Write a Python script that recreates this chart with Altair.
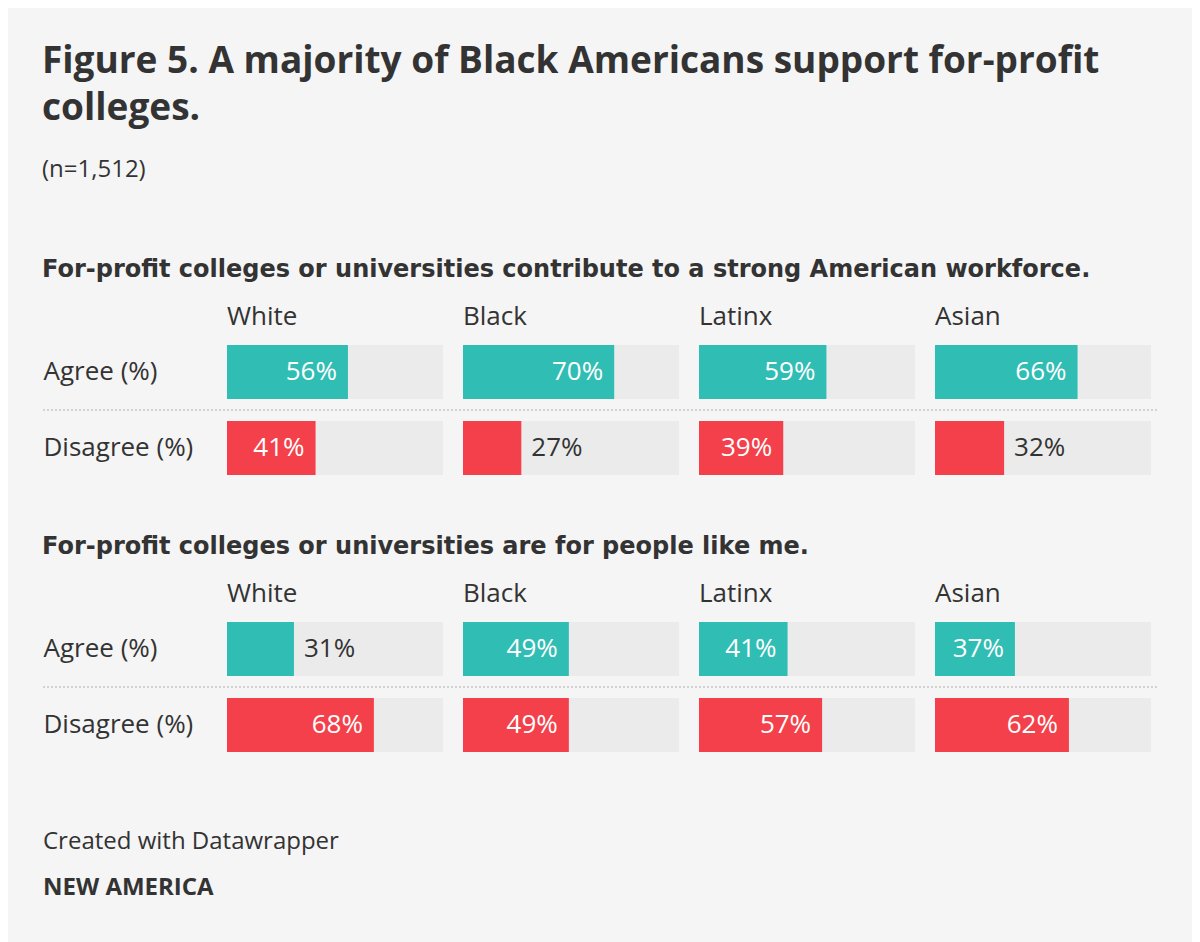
import altair as alt
import pandas as pd

groups = ["White", "Black", "Latinx", "Asian"]
responses = ["Agree (%)", "Disagree (%)"]
s1_agree = [56, 70, 59, 66]
s1_disagree = [41, 27, 39, 32]
s2_agree = [31, 49, 41, 37]
s2_disagree = [68, 49, 57, 62]
section_titles = [
    "For-profit colleges or universities contribute to a strong American workforce.",
    "For-profit colleges or universities are for people like me.",
]
title_lines = ["Figure 5. A majority of Black Americans support for-profit", "colleges."]
subtitle = "(n=1,512)"
footer = ["Created with Datawrapper", "NEW AMERICA"]

TEAL = "#30bdb4"
RED = "#f4404a"
TRACK = "#ebebeb"
BG = "#f5f5f5"
INK = "#333333"
FONT = "Open Sans"
HFONT = "DejaVu Sans"
PANEL_W = 216
BAND = 54
GAP = 22
FS = 26


def frame(agree, disagree):
    rows = []
    for g, a, d in zip(groups, agree, disagree):
        rows.append(dict(group=g, response=responses[0], value=a))
        rows.append(dict(group=g, response=responses[1], value=d))
    return pd.DataFrame(rows)


def yenc(**kw):
    return alt.Y(
        "response:N",
        sort=responses,
        title=None,
        scale=alt.Scale(paddingInner=GAP / (BAND + GAP), paddingOuter=0),
        axis=alt.Axis(
            labelAlign="left",
            labelPadding=184,
            ticks=False,
            tickSize=0,
            domain=False,
            labelFontSize=FS,
            labelColor=INK,
            labelFont=FONT,
        ),
        **kw,
    )


xscale = alt.Scale(domain=[0, 100])


def section(df, title):
    base = alt.Chart()
    track = (
        base.mark_bar(color=TRACK)
        .encode(x=alt.X("full:Q", scale=xscale, axis=None), y=yenc())
        .transform_calculate(full="100")
    )
    bars = base.mark_bar().encode(
        x=alt.X("value:Q", scale=xscale, axis=None),
        y=yenc(),
        color=alt.Color(
            "response:N",
            scale=alt.Scale(domain=responses, range=[TEAL, RED]),
            legend=None,
        ),
    )
    inside = (
        base.mark_text(align="right", dx=-11, color="white", fontSize=FS, font=FONT, baseline="middle")
        .encode(x=alt.X("value:Q", scale=xscale, axis=None), y=yenc(), text="label:N")
        .transform_calculate(label="datum.value + '%'")
        .transform_filter("datum.value >= 35")
    )
    outside = (
        base.mark_text(align="left", dx=10, color=INK, fontSize=FS, font=FONT, baseline="middle")
        .encode(x=alt.X("value:Q", scale=xscale, axis=None), y=yenc(), text="label:N")
        .transform_calculate(label="datum.value + '%'")
        .transform_filter("datum.value < 35")
    )
    rule_a = (
        base.mark_rule(color="#d2d2d2", strokeDash=[2, 2], strokeWidth=2, yOffset=-GAP / 2)
        .encode(y=yenc(bandPosition=0), x=alt.value(0), x2=alt.value(PANEL_W + 20))
        .transform_filter("datum.response == 'Disagree (%)' && datum.group != 'Asian'")
    )
    rule_c = (
        base.mark_rule(color="#d2d2d2", strokeDash=[2, 2], strokeWidth=2, yOffset=-GAP / 2)
        .encode(y=yenc(bandPosition=0), x=alt.value(0), x2=alt.value(PANEL_W + 8))
        .transform_filter("datum.response == 'Disagree (%)' && datum.group == 'Asian'")
    )
    rule_b = (
        base.mark_rule(color="#d2d2d2", strokeDash=[2, 2], strokeWidth=2, yOffset=-GAP / 2)
        .encode(y=yenc(bandPosition=0), x=alt.value(-184), x2=alt.value(0))
        .transform_filter("datum.response == 'Disagree (%)' && datum.group == 'White'")
    )
    layered = alt.layer(track, bars, inside, outside, rule_a, rule_c, rule_b, data=df).properties(
        width=PANEL_W, height=2 * BAND + GAP
    )
    return layered.facet(
        column=alt.Column(
            "group:N",
            sort=groups,
            header=alt.Header(
                title=None,
                labelAlign="left",
                labelAnchor="start",
                labelFontSize=FS,
                labelColor=INK,
                labelFont=FONT,
                labelPadding=15,
            ),
        ),
        spacing=20,
        bounds="flush",
        title=alt.TitleParams(
            text=title,
            anchor="start",
            frame="bounds",
            fontSize=24,
            font=HFONT,
            fontWeight="bold",
            color=INK,
            offset=22,
        ),
    )


sec1 = section(frame(s1_agree, s1_disagree), section_titles[0])
sec2 = section(frame(s2_agree, s2_disagree), section_titles[1])

foot = (
    alt.Chart(pd.DataFrame({"f": [0]}))
    .mark_text(text="")
    .encode(x=alt.value(0), y=alt.value(0))
    .properties(
        width=1,
        height=12,
        title=alt.TitleParams(
            text=footer[0],
            subtitle=footer[1],
            orient="bottom",
            anchor="start",
            frame="group",
            dx=-184,
            offset=0,
            fontSize=24,
            font=FONT,
            fontWeight="normal",
            color=INK,
            subtitleFontSize=24,
            subtitleFont=FONT,
            subtitleFontWeight="bold",
            subtitleColor=INK,
            subtitlePadding=22,
        ),
    )
)

chart = (
    alt.vconcat(sec1, sec2, foot, spacing=60)
    .properties(
        title=alt.TitleParams(
            text=title_lines,
            subtitle=subtitle,
            anchor="start",
            frame="bounds",
            fontSize=37,
            font=FONT,
            fontWeight="bold",
            color=INK,
            lineHeight=47,
            subtitleFontSize=24,
            subtitleFont=FONT,
            subtitleColor=INK,
            subtitlePadding=30,
            offset=75,
        ),
        padding={"left": 34, "top": 35, "right": 32, "bottom": 46},
        background=BG,
    )
    .configure_view(stroke=None)
)

chart.save("out.html", embed_options={"renderer": "svg", "actions": False})
